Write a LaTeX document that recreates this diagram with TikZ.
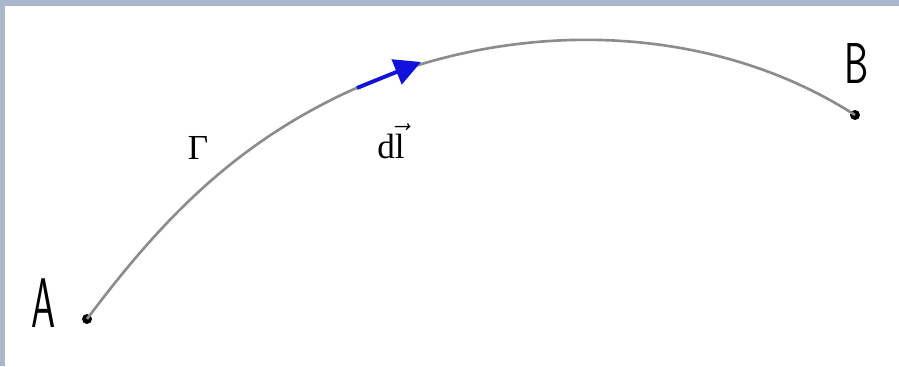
\documentclass[tikz,border=0pt]{standalone}
\usepackage{fontspec}
\setmainfont{Liberation Serif}
\usetikzlibrary{arrows.meta}
\definecolor{frameblue}{HTML}{A9B6CB}
\definecolor{dlblue}{HTML}{1212DC}
\tikzset{
  pt/.style={circle,fill=black,inner sep=0pt,minimum size=0.2cm},
  curve/.style={draw=black!45,line width=1.5pt},
  dlarrow/.style={draw=dlblue,line width=2.2pt,-{Triangle[length=15pt,width=15pt,fill=dlblue]}},
  lbl/.style={font=\fontsize{20}{24}\selectfont,inner sep=0pt},
  hand/.style={font=\sffamily\fontsize{40}{40}\selectfont,xscale=0.55,inner sep=0pt}
}
\begin{document}
\begin{tikzpicture}[x=0.02cm,y=-0.02cm]
  \useasboundingbox (0,0) rectangle (899,366);
  \fill[frameblue] (0,0) rectangle (899,366);
  \fill[white] (5,6) rectangle (899,366);
  \node[pt] (A) at (87,319) {};
  \node[pt] (B) at (855,115) {};
  \coordinate (mid) at (337,97);
  \draw[curve] (A.center) .. controls (159,223) and (229,150) .. (mid)
    .. controls (499,18) and (704,18) .. (B.center);
  \coordinate (dl0) at (357,88);
  \coordinate (dl1) at (421,62);
  \draw[dlarrow] (dl0) -- (dl1);
  \node[lbl,anchor=base] (gamma) at (198,159) {Γ};
  \node[lbl,anchor=base] (dl) at (391,158) {$\mathrm{d}\vec{\mathrm{l}}$};
  \node[hand,anchor=base] (labA) at (44,327) {A};
  \node[hand,yscale=0.82,anchor=base] (labB) at (857,83) {B};
\end{tikzpicture}
\end{document}
